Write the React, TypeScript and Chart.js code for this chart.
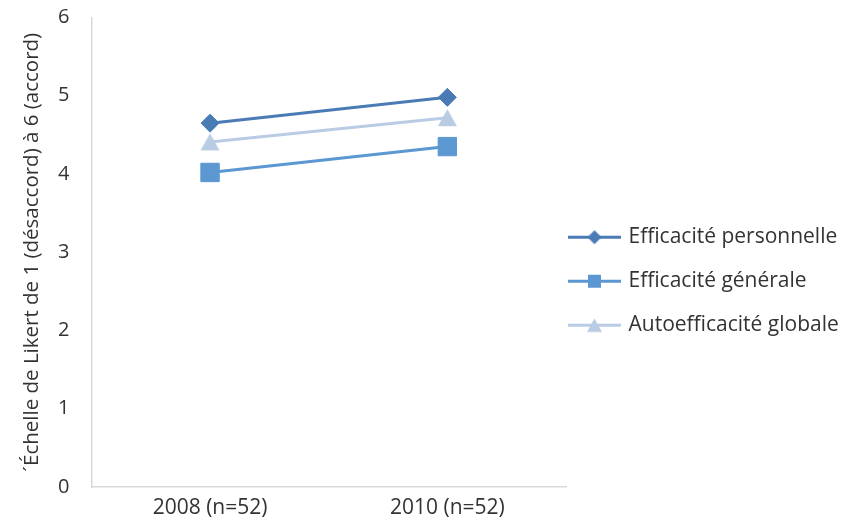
import React, { useEffect, useRef } from 'react';
import { Chart, registerables } from 'chart.js';

Chart.register(...registerables);

const categories = ['2008 (n=52)', '2010 (n=52)'];
const efficacitePersonnelle = [4.65, 4.98];
const efficaciteGenerale = [4.02, 4.35];
const autoefficaciteGlobale = [4.41, 4.72];
const seriesNames = ['Efficacité personnelle', 'Efficacité générale', 'Autoefficacité globale'];
const yTicks = [0, 1, 2, 3, 4, 5, 6];
const yTitle = '´Échelle de Likert de 1 (désaccord) à 6 (accord)';

const colors = ['#4a7bb5', '#5b97d1', '#b9cce4'];
const markerKinds = ['diamond', 'square', 'triangle'];
const FONT = "'Open Sans', sans-serif";
const TEXT = '#333333';
const AXIS = '#d9d9d9';

function makeMarker(kind: string, size: number, color: string): HTMLCanvasElement {
  const c = document.createElement('canvas');
  const s = Math.ceil(size) + 2;
  c.width = s;
  c.height = s;
  const ctx = c.getContext('2d')!;
  const cx = s / 2;
  const cy = s / 2;
  const h = size / 2;
  ctx.fillStyle = color;
  ctx.beginPath();
  if (kind === 'diamond') {
    ctx.moveTo(cx - h, cy);
    ctx.lineTo(cx, cy - h);
    ctx.lineTo(cx + h, cy);
    ctx.lineTo(cx, cy + h);
    ctx.closePath();
  } else if (kind === 'square') {
    ctx.rect(cx - h, cy - h, size, size);
  } else {
    const th = size * 0.9;
    ctx.moveTo(cx, cy - th / 2);
    ctx.lineTo(cx + h, cy + th / 2);
    ctx.lineTo(cx - h, cy + th / 2);
    ctx.closePath();
  }
  ctx.fill();
  return c;
}

export default function App() {
  const ref = useRef<HTMLCanvasElement | null>(null);

  useEffect(() => {
    if (!ref.current) return;
    const legendMarkers = [
      makeMarker('diamond', 14, colors[0]),
      makeMarker('square', 13, colors[1]),
      makeMarker('triangle', 15, colors[2]),
    ];
    const triangleMarker = makeMarker('triangle', 19, colors[2]);

    const sideLegend = {
      id: 'sideLegend',
      afterDraw(chart: any) {
        const { ctx, chartArea } = chart;
        const x0 = chartArea.right + 2;
        const midY = (chartArea.top + chartArea.bottom) / 2 + 29;
        chart.data.datasets.forEach((ds: any, i: number) => {
          const y = midY + (i - 1) * 44;
          ctx.save();
          ctx.strokeStyle = ds.borderColor;
          ctx.lineWidth = 3;
          ctx.beginPath();
          ctx.moveTo(x0, y);
          ctx.lineTo(x0 + 53, y);
          ctx.stroke();
          const m = legendMarkers[i];
          ctx.drawImage(m, x0 + 26.5 - m.width / 2, y - m.height / 2);
          ctx.fillStyle = TEXT;
          ctx.font = `21px ${FONT}`;
          ctx.textAlign = 'left';
          ctx.textBaseline = 'middle';
          ctx.fillText(ds.label, x0 + 60.5, y);
          ctx.restore();
        });
      },
    };

    const chart = new Chart(ref.current, {
      type: 'line',
      data: {
        labels: categories,
        datasets: [
          {
            label: seriesNames[0],
            data: efficacitePersonnelle,
            borderColor: colors[0],
            backgroundColor: colors[0],
            borderWidth: 3,
            pointStyle: 'rectRot',
            pointRadius: 9,
            pointBorderWidth: 1,
          },
          {
            label: seriesNames[1],
            data: efficaciteGenerale,
            borderColor: colors[1],
            backgroundColor: colors[1],
            borderWidth: 3,
            pointStyle: 'rect',
            pointRadius: 13,
            pointBorderWidth: 1,
          },
          {
            label: seriesNames[2],
            data: autoefficaciteGlobale,
            borderColor: colors[2],
            backgroundColor: colors[2],
            borderWidth: 3,
            pointStyle: triangleMarker,
            pointRadius: 10,
          },
        ],
      },
      options: {
        animation: false,
        responsive: true,
        maintainAspectRatio: false,
        layout: { padding: { left: 20, top: 17.5, right: 276, bottom: 12 } },
        scales: {
          x: {
            offset: true,
            grid: { display: false, drawTicks: false },
            border: { display: true, color: AXIS, width: 1.5 },
            ticks: { color: TEXT, font: { size: 21, family: FONT }, padding: 8, maxRotation: 0 },
            afterFit: (scale: any) => {
              scale.height = 32;
              scale.paddingLeft = 0;
              scale.paddingRight = 0;
            },
          },
          y: {
            min: yTicks[0],
            max: yTicks[yTicks.length - 1],
            grid: { display: false, drawTicks: false },
            border: { display: true, color: AXIS, width: 1.5 },
            afterBuildTicks: (scale: any) => {
              scale.ticks = yTicks.map((v) => ({ value: v }));
            },
            afterFit: (scale: any) => {
              scale.width = 71.4;
              scale.paddingTop = 0;
              scale.paddingBottom = 0;
            },
            ticks: { color: TEXT, font: { size: 20, family: FONT }, padding: 22 },
            title: {
              display: true,
              text: yTitle,
              color: TEXT,
              font: { size: 20.5, family: FONT },
              padding: { top: 0, bottom: 0 },
            },
          },
        },
        plugins: {
          tooltip: { enabled: false },
          legend: { display: false },
        },
      },
      plugins: [sideLegend],
    } as any);
    return () => chart.destroy();
  }, []);

  return (
    <div style={{ position: 'absolute', left: 0, top: 0, width: 842, height: 531 }}>
      <canvas ref={ref} />
    </div>
  );
}
